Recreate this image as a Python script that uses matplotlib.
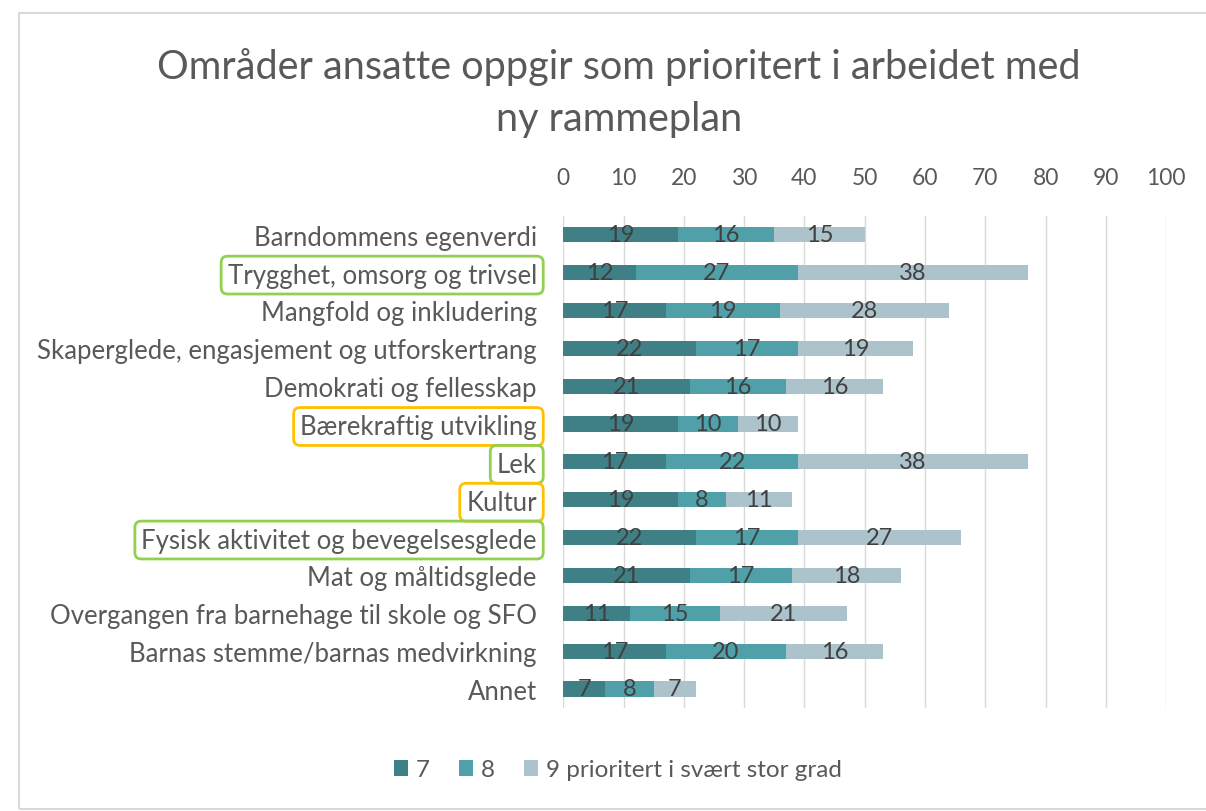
import numpy as np
import matplotlib.pyplot as plt
from matplotlib.patches import Rectangle

plt.rcParams['font.family'] = ['Lato', 'DejaVu Sans']

# data
categories = ['Barndommens egenverdi', 'Trygghet, omsorg og trivsel', 'Mangfold og inkludering',
              'Skaperglede, engasjement og utforskertrang', 'Demokrati og fellesskap',
              'Bærekraftig utvikling', 'Lek', 'Kultur', 'Fysisk aktivitet og bevegelsesglede',
              'Mat og måltidsglede', 'Overgangen fra barnehage til skole og SFO',
              'Barnas stemme/barnas medvirkning', 'Annet']
val7 = [19, 12, 17, 22, 21, 19, 17, 19, 22, 21, 11, 17, 7]
val8 = [16, 27, 19, 17, 16, 10, 22, 8, 17, 17, 15, 20, 8]
val9 = [15, 38, 28, 19, 16, 10, 38, 11, 27, 18, 21, 16, 7]
series_names = ['7', '8', '9 prioritert i svært stor grad']
green_boxed = ['Trygghet, omsorg og trivsel', 'Lek', 'Fysisk aktivitet og bevegelsesglede']
orange_boxed = ['Bærekraftig utvikling', 'Kultur']

colors = ['#3f7f86', '#50a0aa', '#adc3cc']
text_col = '#595959'

fig = plt.figure(figsize=(12.06, 8.12), dpi=100)
ax = fig.add_axes([0.467, 0.127, 0.5, 0.606])

y = np.arange(len(categories))
left = np.zeros(len(categories))
for vals, col, name in zip([val7, val8, val9], colors, series_names):
    vals = np.array(vals)
    bars = ax.barh(y, vals, left=left, height=0.4, color=col, label=name)
    ax.bar_label(bars, labels=[str(v) for v in vals], label_type='center',
                 fontsize=17, color='#404040')
    left = left + vals

ax.set_xlim(0, 100)
ax.set_ylim(len(categories) - 0.5, -0.5)
ax.set_xticks(np.arange(0, 101, 10))
ax.xaxis.tick_top()
ax.tick_params(axis='x', length=0, pad=20, labelsize=16.5, labelcolor=text_col)
ax.tick_params(axis='y', length=0, pad=19, labelsize=18.5, labelcolor=text_col)
ax.set_yticks(y)
ax.set_yticklabels(categories)
ax.grid(axis='x', color='#d9d9d9', linewidth=1)
ax.set_axisbelow(True)
for s in ax.spines.values():
    s.set_visible(False)

for lbl in ax.get_yticklabels():
    t = lbl.get_text()
    if t in green_boxed:
        lbl.set_bbox(dict(boxstyle='round,pad=0.25', fc='none', ec='#92d050', lw=2))
    elif t in orange_boxed:
        lbl.set_bbox(dict(boxstyle='round,pad=0.25', fc='none', ec='#ffc000', lw=2))

fig.text(0.513, 0.886, 'Områder ansatte oppgir som prioritert i arbeidet med\nny rammeplan',
         ha='center', va='center', fontsize=28.5, color=text_col, linespacing=1.5)

fig.legend(loc='center', bbox_to_anchor=(0.512, 1 - 771 / 812), ncol=3, frameon=False,
           fontsize=17.5, labelcolor=text_col, handlelength=0.6, handleheight=0.6,
           handletextpad=0.3, columnspacing=1.2)

# outer chart border
fig.patches.append(Rectangle((19 / 1206, 2 / 812), 1.2, 796 / 812, transform=fig.transFigure,
                             fill=False, ec='#d9d9d9', lw=1.5))

fig.savefig('out.png', dpi=100)
